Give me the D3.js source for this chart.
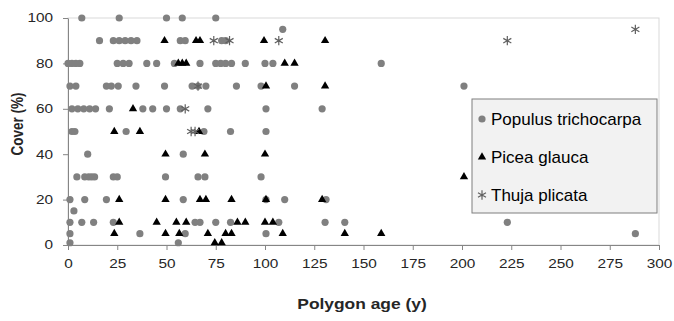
<!DOCTYPE html>
<html>
<head>
<meta charset="utf-8">
<script src="https://d3js.org/d3.v7.min.js"></script>
<style>
body { margin: 0; background: #fff; }
svg { font-family: "Liberation Sans", Arial, sans-serif; }
.axis path, .axis line { stroke: #868686; }
.axis text { fill: #262626; font-size: 12px; }
</style>
</head>
<body>
<svg width="674" height="321"></svg>
<script>
// Populus trichocarpa: [age, cover]
var populus = [
  [7,100],[26,100],[50,100],[58,100],[75,100],
  [109,95],
  [16,90],[23,90],[26,90],[29,90],[32,90],[35,90],[57,90],[59.5,90],[78,90],[80,90],
  [0,80],[2,80],[4,80],[6,80],[25,80],[28,80],[31,80],[40,80],[45,80],[54,80],[67,80],
  [75,80],[77.5,80],[80,80],[83,80],[90,80],[100,80],[104,80],[159,80],
  [1,70],[4,70],[19.5,70],[22,70],[25.5,70],[34.5,70],[49,70],[63,70],[66,70],[70,70],
  [85.5,70],[98,70],[115,70],[201,70],
  [2,60],[5,60],[8,60],[11,60],[14,60],[21,60],[38,60],[43,60],[50,60],[57,60],[71,60],
  [100.5,60],[129,60],
  [2,50],[3.5,50],[29.5,50],[69,50],[82.5,50],[100.5,50],
  [10,40],[58.5,40],
  [4.5,30],[8.5,30],[10.5,30],[12,30],[13.5,30],[23,30],[25,30],[49.5,30],[66,30],
  [69.5,30],[98,30],
  [1,20],[8.5,20],[19.5,20],[58.5,20],[100.5,20],[110,20],[131,20],
  [3,15],
  [1,10],[7,10],[13,10],[23,10],[64.5,10],[67,10],[75,10],[82.5,10],[107,10],
  [130.5,10],[140.5,10],[223,10],
  [1,5],[36.5,5],[59.5,5],[100.5,5],[288,5],
  [1,1],[56,1]
];

// Picea glauca
var picea = [
  [49,90],[65,90],[67,90],[99.5,90],[130.5,90],
  [56,80],[58,80],[60,80],[110,80],[115,80],
  [100.5,70],[130.5,70],
  [33,60],
  [23.5,50],[36.5,50],[66.5,50],
  [49.5,40],[69.5,40],[100,40],
  [201,30],
  [26,20],[49.5,20],[67,20],[70,20],[83,20],[100.5,20],[129,20],
  [26,10],[45,10],[55,10],[60,10],[86,10],[90,10],[100,10],[104,10],
  [23.5,5],[49.5,5],[56.5,5],[71,5],[80,5],[83,5],[109,5],[140.5,5],[159,5],
  [74.5,1],[78,1]
];

// Thuja plicata
var thuja = [
  [74,90],[82,90],[107,90],[223,90],
  [288,95],
  [66,70],
  [59.5,60],
  [62.5,50],[64.5,50]
];

var xTicks = d3.range(0, 301, 25);
var yTicks = [0, 20, 40, 60, 80, 100];
var seriesNames = ["Populus trichocarpa", "Picea glauca", "Thuja plicata"];

var svg = d3.select("svg"),
    width = +svg.attr("width"),
    height = +svg.attr("height"),
    margin = {top: 18, right: 15, bottom: 76, left: 68};

var x = d3.scaleLinear().domain([0, 300]).range([margin.left, width - margin.right]);
var y = d3.scaleLinear().domain([0, 100]).range([height - margin.bottom, margin.top]);

var stretch = 1.28; // labels in the original look wide

// plot frame (top/right show)
svg.append("rect")
    .attr("x", x(0)).attr("y", y(100))
    .attr("width", x(300) - x(0)).attr("height", y(0) - y(100))
    .attr("fill", "none").attr("stroke", "#d9d9d9");

var xAxis = svg.append("g")
    .attr("class", "axis")
    .attr("transform", "translate(0," + y(0) + ")")
    .call(d3.axisBottom(x).tickValues(xTicks).tickSize(5).tickPadding(9).tickSizeOuter(0));
xAxis.selectAll("text").attr("transform", "scale(" + stretch + ",1)");

var yAxis = svg.append("g")
    .attr("class", "axis")
    .attr("transform", "translate(" + x(0) + ",0)")
    .call(d3.axisLeft(y).tickValues(yTicks).tickSize(5).tickSizeOuter(0));
yAxis.selectAll("text")
    .attr("x", -15 / stretch)
    .attr("transform", "scale(" + stretch + ",1)");

// axis titles
svg.append("text")
    .attr("transform", "translate(362,309) scale(1.2,1)")
    .attr("text-anchor", "middle")
    .attr("font-size", 14.5).attr("font-weight", "bold").attr("fill", "#262626")
    .text("Polygon age (y)");

svg.append("text")
    .attr("transform", "translate(23,124) rotate(-90) scale(1,1.25)")
    .attr("text-anchor", "middle")
    .attr("font-size", 13.5).attr("font-weight", "bold").attr("fill", "#262626")
    .text("Cover (%)");

var tri = d3.symbol().type(d3.symbolTriangle).size(30);
var star = d3.symbol().type(d3.symbolAsterisk).size(60);

svg.append("g").selectAll("circle")
    .data(populus)
  .enter().append("circle")
    .attr("cx", function(d) { return x(d[0]); })
    .attr("cy", function(d) { return y(d[1]); })
    .attr("r", 3.6)
    .attr("fill", "#808080");

svg.append("g").selectAll("path")
    .data(picea)
  .enter().append("path")
    .attr("d", tri)
    .attr("transform", function(d) { return "translate(" + x(d[0]) + "," + y(d[1]) + ")"; })
    .attr("fill", "#000");

svg.append("g").selectAll("path")
    .data(thuja)
  .enter().append("path")
    .attr("d", star)
    .attr("transform", function(d) { return "translate(" + x(d[0]) + "," + y(d[1]) + ")"; })
    .attr("fill", "none")
    .attr("stroke", "#606060")
    .attr("stroke-width", 1.2);

// legend
var legend = svg.append("g");
legend.append("rect")
    .attr("x", 472).attr("y", 99).attr("width", 185).attr("height", 114)
    .attr("fill", "#f2f2f2").attr("stroke", "#7f7f7f");

var rows = legend.selectAll("g.row")
    .data(seriesNames)
  .enter().append("g")
    .attr("class", "row")
    .attr("transform", function(d, i) { return "translate(482," + (119 + i * 38) + ")"; });

rows.each(function(d, i) {
  var g = d3.select(this);
  if (i === 0) g.append("circle").attr("r", 3.6).attr("fill", "#808080");
  else if (i === 1) g.append("path").attr("d", tri).attr("fill", "#000");
  else g.append("path").attr("d", star).attr("fill", "none").attr("stroke", "#606060").attr("stroke-width", 1.2);
  g.append("text")
      .attr("x", 9).attr("dy", "0.35em")
      .attr("font-size", 17).attr("fill", "#000")
      .text(d);
});
</script>
</body>
</html>
